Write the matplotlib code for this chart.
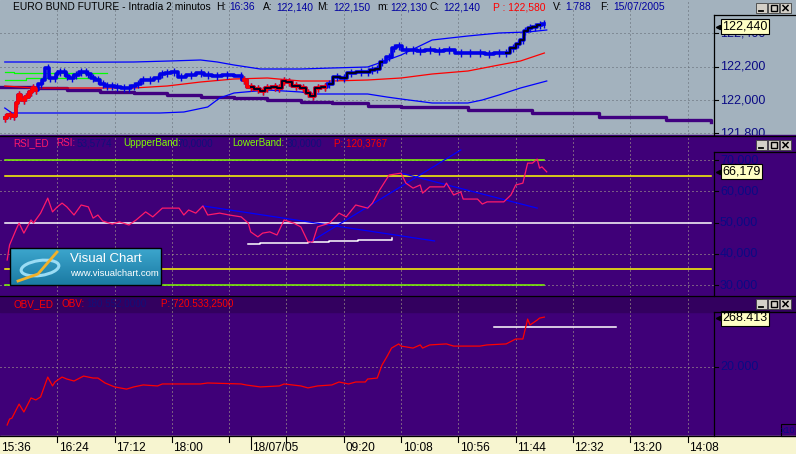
import matplotlib
matplotlib.use("Agg")
import numpy as np
import matplotlib.pyplot as plt
from matplotlib.patches import Rectangle, Ellipse
from matplotlib.colors import LinearSegmentedColormap
from matplotlib.transforms import offset_copy

plt.rcParams["font.family"] = ["Liberation Sans", "DejaVu Sans"]

# x values are 2-minute bar numbers counted from 15:36 (session gap compressed)

# price panel
price_bar = [2, 4, 6, 7, 8, 10, 11, 13, 14, 15, 17, 18, 20, 21, 23, 24, 25, 27, 28, 30,
             32, 34, 36, 37, 39, 41, 43, 45, 47, 49, 52, 54, 56, 58, 60, 63, 66, 68, 70, 73,
             76, 80, 84, 87, 91, 95, 101, 102, 105, 108, 110, 112, 115, 117, 119, 121, 124, 127, 129, 131,
             133, 136, 138, 141, 144, 147, 151, 154, 156, 158, 160, 163, 165, 167, 170, 173, 176, 180, 184, 188,
             193, 197, 201, 205, 209, 212, 215, 217, 219, 220, 222, 224, 226, 228]
price_val = [121.892, 121.91, 121.904, 121.982, 122.03, 122.0, 122.018, 122.048, 122.072, 122.06,
             122.096, 122.12, 122.192, 122.132, 122.132, 122.156, 122.168, 122.168, 122.144, 122.132,
             122.15, 122.168, 122.168, 122.156, 122.132, 122.12, 122.096, 122.084, 122.084, 122.078,
             122.072, 122.072, 122.084, 122.096, 122.12, 122.12, 122.132, 122.156, 122.162, 122.168,
             122.138, 122.15, 122.162, 122.15, 122.144, 122.15, 122.144, 122.12, 122.078, 122.066,
             122.054, 122.072, 122.078, 122.072, 122.114, 122.108, 122.084, 122.072, 122.042, 122.024,
             122.072, 122.078, 122.096, 122.138, 122.132, 122.162, 122.168, 122.168, 122.18, 122.186,
             122.228, 122.258, 122.312, 122.324, 122.3, 122.3, 122.294, 122.3, 122.294, 122.3,
             122.282, 122.282, 122.282, 122.276, 122.282, 122.282, 122.312, 122.336, 122.36, 122.414,
             122.432, 122.438, 122.45, 122.456]
last_price = 122.44

upper_bar = [2, 21, 28, 56, 71, 84, 91, 98, 109, 126, 139, 154, 160, 168, 181, 196, 209, 221, 229]
upper_val = [122.228, 122.228, 122.226, 122.228, 122.234, 122.24, 122.228, 122.21, 122.186, 122.186,
             122.192, 122.198, 122.228, 122.27, 122.36, 122.384, 122.402, 122.408, 122.42]
mid_bar = [2, 14, 42, 56, 70, 84, 98, 112, 126, 139, 154, 168, 181, 196, 209, 218, 228]
mid_val = [122.084, 122.072, 122.072, 122.072, 122.084, 122.108, 122.126, 122.132, 122.114, 122.114,
           122.12, 122.132, 122.156, 122.174, 122.21, 122.234, 122.282]
lower_bar = [2, 5, 67, 77, 87, 92, 98, 112, 126, 131, 154, 162, 168, 181, 196, 202, 209, 218, 229]
lower_val = [121.952, 121.922, 121.922, 121.928, 121.958, 122.012, 122.042, 122.06, 122.048, 122.036,
             122.036, 122.018, 122.006, 121.982, 121.982, 122.0, 122.03, 122.072, 122.114]
long_bar = [0, 14, 28, 42, 56, 70, 84, 98, 112, 126, 139, 154, 168, 196, 223, 251, 279, 298]
long_val = [122.078, 122.072, 122.06, 122.048, 122.042, 122.03, 122.018, 122.012, 122.0, 121.988,
            121.982, 121.964, 121.958, 121.94, 121.922, 121.898, 121.88, 121.868]
green1_bar = [2, 6, 45]
green1_val = [122.168, 122.16, 122.16]
green2_bar = [2, 11, 42]
green2_val = [122.12, 122.13, 122.13]

# RSI panel
rsi_bar = [3, 4, 7, 8, 10, 13, 14, 17, 20, 22, 24, 26, 28, 31, 34, 37, 39, 41, 43, 47,
           50, 54, 57, 61, 64, 68, 75, 77, 79, 82, 85, 87, 92, 96, 101, 104, 105, 108, 110, 113,
           116, 119, 123, 126, 129, 131, 133, 138, 142, 145, 149, 154, 156, 159, 163, 168, 170, 173, 176, 177,
           180, 186, 187, 190, 193, 194, 200, 202, 204, 211, 214, 216, 219, 221, 223, 225, 226, 227, 229]
rsi_val = [38.0, 42.8, 48.2, 49.8, 46.6, 50.8, 49.8, 53.0, 57.8, 53.4, 55.0, 56.2, 55.0, 52.4, 55.6,
           55.0, 51.4, 52.4, 50.5, 49.5, 50.2, 49.2, 50.8, 53.4, 51.8, 54.6, 54.6, 52.4, 54.0, 53.0,
           55.3, 52.4, 53.0, 52.4, 51.8, 49.8, 47.0, 45.4, 46.6, 47.0, 46.0, 50.8, 49.8, 48.6, 43.8,
           43.8, 48.6, 49.8, 53.0, 51.8, 55.6, 54.6, 56.2, 60.4, 65.2, 65.8, 62.6, 61.0, 62.0, 59.4,
           61.4, 61.4, 62.6, 58.8, 59.8, 57.5, 57.5, 55.9, 56.6, 56.6, 58.8, 62.0, 62.6, 69.0, 69.0,
           70.3, 67.4, 67.8, 66.2]
last_rsi = 66.179
rsi_levels = [70, 65, 50, 35, 30]
rsi_level_end = [228, 298, 298, 298, 228]
rsi_level_colors = ["#80FF00", "#FFFF00", "#FFFFFF", "#FFFF00", "#80FF00"]
trend_lines = [([85, 182], [55.3, 44.1]), ([130, 193], [43.8, 73.2]), ([168, 225], [65.8, 54.6])]
support_bar = [104, 109, 129, 138, 150, 164]
support_val = [43.1, 43.4, 43.8, 44.1, 44.4, 45.0]

# OBV panel (thousands, chart shows x10)
obv_bar = [3, 4, 5, 8, 10, 13, 15, 17, 20, 22, 23, 26, 28, 31, 35, 39, 41, 44, 48, 53,
           56, 60, 66, 68, 84, 87, 101, 103, 109, 117, 119, 126, 129, 133, 139, 142, 146, 149, 153, 154,
           158, 160, 162, 164, 167, 168, 173, 176, 177, 180, 187, 190, 201, 204, 212, 216, 219, 221, 222, 225,
           226, 228]
obv_val = [-274, -244, -239, -168, -208, -137, -147, -132, -31, -76, -56, -31, -41, -51, -26, -36, -36,
           -61, -81, -92, -81, -71, -76, -66, -66, -61, -66, -71, -81, -76, -66, -76, -86, -76, -71,
           -56, -66, -56, -56, -41, -36, 30, 71, 116, 137, 126, 116, 132, 116, 132, 137, 126, 126,
           132, 137, 162, 162, 263, 233, 258, 268, 273]
last_obv = 268.413
obv_line_bar = [207, 258]
obv_line_val = [223, 223]

grid_bars = [24, 48, 72, 96, 120, 144, 168, 192, 216, 240, 264, 288]
date_bar = 105
time_label_bars = [0, 24, 48, 72, 105, 144, 168, 192, 216, 240, 264, 288]
time_labels = ["15:36", "16:24", "17:12", "18:00", "18/07/05", "09:20", "10:08", "10:56",
               "11:44", "12:32", "13:20", "14:08"]

# ---------------- layout ----------------
W, H = 796, 454
BAR_PX = 57.3 / 24
RIGHT = 714
GRAY = "#A3B2BE"
PURPLE = "#3F0078"
BAND = "#33005F"
CREAM = "#F7F5D0"
NAVY = "#0A0A84"
DOT_TOP = "#5E6670"
DOT_PUR = "#B4B48E"

fig = plt.figure(figsize=(W / 100, H / 100), dpi=100)


def px_axes(x0, y0, x1, y1, z):
    ax = fig.add_axes([x0 / W, 1 - y1 / H, (x1 - x0) / W, (y1 - y0) / H], zorder=z)
    ax.set_facecolor("none")
    ax.axis("off")
    return ax


bg = px_axes(0, 0, W, H, 0)
bg.add_patch(Rectangle((0, 0), W, 135, color=GRAY))
bg.add_patch(Rectangle((0, 135), W, 162, color=PURPLE))
bg.add_patch(Rectangle((0, 296), W, 140, color=PURPLE))
bg.add_patch(Rectangle((0, 297), W, 15, color=BAND))
bg.add_patch(Rectangle((0, 436), W, 18, color=CREAM))
bg.set_xlim(0, W)
bg.set_ylim(H, 0)

x_max = RIGHT / BAR_PX
ax_p = px_axes(0, 0, RIGHT, 135, 1)
ax_r = px_axes(0, 136, RIGHT, 295, 1)
ax_o = px_axes(0, 297, RIGHT, 436, 1)
ax_p.set_ylim(121.79, 122.6)
ax_r.set_ylim(26.8, 77.68)
ax_o.set_ylim(-329.8, 374.9)
dot = (0, (1, 3))
for ax, col in ((ax_p, DOT_TOP), (ax_r, DOT_PUR), (ax_o, DOT_PUR)):
    ax.set_xlim(0, x_max)
    for g in grid_bars:
        ax.axvline(g, color=col, lw=0.72, ls=dot, zorder=0.5)
for v in [121.8, 122.0, 122.2, 122.4]:
    ax_p.axhline(v, color=DOT_TOP, lw=0.72, ls=dot, zorder=0.5)
for v in [30, 40, 60, 70]:
    ax_r.axhline(v, color=DOT_PUR, lw=0.72, ls=dot, zorder=0.5)
ax_o.axhline(20, color=DOT_PUR, lw=0.72, ls=dot, zorder=0.5)

# price panel
ax_p.plot(long_bar, long_val, drawstyle="steps-post", color="#400080", lw=2.4, zorder=2)
ax_p.plot(green1_bar, green1_val, drawstyle="steps-post", color="#00FF00", lw=0.9, zorder=2)
ax_p.plot(green2_bar, green2_val, drawstyle="steps-post", color="#00FF00", lw=0.9, zorder=2)
ax_p.plot(upper_bar, upper_val, color="#0000FF", lw=0.9, zorder=3)
ax_p.plot(lower_bar, lower_val, color="#0000FF", lw=0.9, zorder=3)
ax_p.plot(mid_bar, mid_val, color="#FF0000", lw=0.9, zorder=3)

pb = np.array(price_bar)
pv = np.array(price_val)
ax_p.plot(pb, pv, drawstyle="steps-mid", color="#0000E6", lw=2.6, zorder=4)
ax_p.plot(pb, pv, ls="none", marker="|", ms=6, mew=1, color="#0000E6", zorder=4)
for lo, hi in [(0, 16), (102, 136)]:
    m = (pb >= lo) & (pb <= hi)
    ax_p.plot(pb[m], pv[m], drawstyle="steps-mid", color="#FF0000", lw=2.6, zorder=5)
    ax_p.plot(pb[m], pv[m], ls="none", marker="|", ms=6, mew=1, color="#FF0000", zorder=5)
for lo, hi in [(105, 136), (138, 160), (212, 226)]:
    m = (pb >= lo) & (pb <= hi)
    ax_p.plot(pb[m], pv[m], drawstyle="steps-mid", color="#000020", lw=1.4, zorder=6)

# RSI panel
for lvl, end, col in zip(rsi_levels, rsi_level_end, rsi_level_colors):
    ax_r.plot([2, end], [lvl, lvl], color=col, lw=1.1, zorder=2)
ax_r.plot(support_bar, support_val, drawstyle="steps-post", color="#FFFFFF", lw=1.1, zorder=3)
for xs, ys in trend_lines:
    ax_r.plot(xs, ys, color="#0000FF", lw=0.9, zorder=3)
ax_r.plot(rsi_bar, rsi_val, color="#FF1A6A", lw=0.9, zorder=4)

# OBV panel
ax_o.plot(obv_line_bar, obv_line_val, color="#FFFFFF", lw=1.1, zorder=2)
ax_o.plot(obv_bar, obv_val, color="#FF0000", lw=0.9, zorder=3)

# time axis
xt = ax_o.get_xaxis_transform()
for g in grid_bars + [date_bar]:
    tick_len = -0.095 if g == date_bar else -0.045
    ax_o.plot([g, g], [0, tick_len], transform=xt, color="black", lw=0.8, clip_on=False)
lab_tr = offset_copy(xt, fig=fig, x=1.5, y=0, units="dots")
for b, lab in zip(time_label_bars, time_labels):
    ax_o.text(b, -0.088, lab, transform=lab_tr, ha="left", va="center", fontsize=8.6,
              color="black", clip_on=False)


# right price scales
def right_scale(ax_data, y0, y1, ticks, labels, last, last_txt):
    rax = px_axes(RIGHT, y0, W, y1, 2)
    rax.set_xlim(0, W - RIGHT)
    rax.set_ylim(ax_data.get_ylim())
    for t, lab in zip(ticks, labels):
        rax.plot([0, 4], [t, t], color="black", lw=0.8)
        rax.text(6, t, lab, color=NAVY, fontsize=9, va="center", ha="left", clip_on=True)
    rax.plot([4], [last], marker="<", ms=3, color="black")
    rax.text(8.5, last, last_txt, fontsize=9, color="black", va="center", ha="left",
             bbox=dict(boxstyle="square,pad=0.12", fc="#FFFFC4", ec="black", lw=0.8), zorder=5)
    return rax


right_scale(ax_p, 0, 135, [121.8, 122.0, 122.2, 122.4],
            ["121,800", "122,000", "122,200", "122,400"], last_price, "122,440")
right_scale(ax_r, 136, 295, [30, 40, 50, 60, 70],
            ["30,000", "40,000", "50,000", "60,000", "70,000"], last_rsi, "66,179")
right_scale(ax_o, 297, 436, [20], ["20.000"], last_obv, "268.413")

# decorations in pixel space
deco = px_axes(0, 0, W, H, 5)


def frame_lines():
    k = dict(color="black", lw=0.9)
    deco.plot([0, W], [135.5, 135.5], **k)
    deco.plot([0, W], [296, 296], **k)
    deco.plot([0, W], [436, 436], **k)
    for top, bot in [(15, 135), (152, 296), (312, 436)]:
        deco.plot([RIGHT, RIGHT], [top, bot], **k)
        deco.plot([RIGHT, W], [top, top], **k)


frame_lines()


def buttons(y):
    for i in range(3):
        x = 756 + i * 12
        deco.add_patch(Rectangle((x, y), 11, 10, fc="#D4D0C8", ec="#404040", lw=0.6, zorder=6))
        if i == 0:
            deco.plot([x + 3, x + 7], [y + 7.5, y + 7.5], color="black", lw=1.3, zorder=7)
        elif i == 1:
            deco.add_patch(Rectangle((x + 2.5, y + 2), 6, 6, fill=False, ec="black", lw=1, zorder=7))
        else:
            deco.plot([x + 3, x + 8], [y + 2.5, y + 7.5], color="black", lw=1.1, zorder=7)
            deco.plot([x + 3, x + 8], [y + 7.5, y + 2.5], color="black", lw=1.1, zorder=7)


for yb in (3, 140, 299):
    buttons(yb)

deco.add_patch(Rectangle((781, 424), 15, 12, fill=False, ec="black", lw=0.8))
deco.text(788.5, 430.5, "x10", color=NAVY, fontsize=6.5, ha="center", va="center")


def title_row(y, parts, size):
    for x, txt, col in parts:
        deco.text(x, y, txt, color=col, fontsize=size, ha="left", va="center")


title_row(7.5, [
    (13, "EURO BUND FUTURE - Intradía 2 minutos", "black"),
    (216, "H:", "black"), (229, "16:36", "#0000A0"),
    (263, "A:", "black"), (276, "122,140", "#0000A0"),
    (317, "M:", "black"), (333, "122,150", "#0000A0"),
    (377, "m:", "black"), (390, "122,130", "#0000A0"),
    (430, "C:", "black"), (443, "122,140", "#0000A0"),
    (493, "P : 122,580", "#FF0000"),
    (553, "V:", "black"), (565, "1.788", "#0000A0"),
    (600, "F:", "black"), (613, "15/07/2005", "#0000A0"),
], 7.4)
title_row(143.5, [
    (13, "RSI_ED", "#FF1A6A"), (56, "RSI:", "#FF1A6A"), (77, "53,5774", "#10107A"),
    (123, "UppperBand:", "#80FF00"), (178, "70,0000", "#10107A"),
    (232, "LowerBand:", "#80FF00"), (287, "30,0000", "#10107A"),
    (334, "P: 120,3767", "#FF0000"),
], 7.1)
title_row(304, [
    (13, "OBV_ED", "#FF0000"), (61, "OBV:", "#FF0000"), (86, "180.552,0000", "#10107A"),
    (161, "P: 720.533,2500", "#FF0000"),
], 7.1)

# Visual Chart logo
grad = np.linspace(0, 1, 40).reshape(-1, 1)
cmap = LinearSegmentedColormap.from_list("vc", ["#3CA6CD", "#1B7AA3"])
deco.imshow(grad, extent=(10, 161, 285, 248), cmap=cmap, aspect="auto", zorder=3)
deco.add_patch(Rectangle((10, 248), 151, 37, fill=False, ec="black", lw=1, zorder=4))
deco.add_patch(Ellipse((40, 268), 38, 15, angle=-8, fill=False, ec="#9ADCF4", lw=2.2, zorder=4))
deco.plot([18, 38, 57], [281, 274, 252], color="#F2B12A", lw=2, zorder=5)
deco.text(70, 259, "Visual Chart", color="white", fontsize=9.5, ha="left", va="center", zorder=5)
deco.text(70, 274, "www.visualchart.com", color="white", fontsize=6.8, ha="left", va="center", zorder=5)

deco.set_xlim(0, W)
deco.set_ylim(H, 0)

fig.savefig("out.png", dpi=100)
